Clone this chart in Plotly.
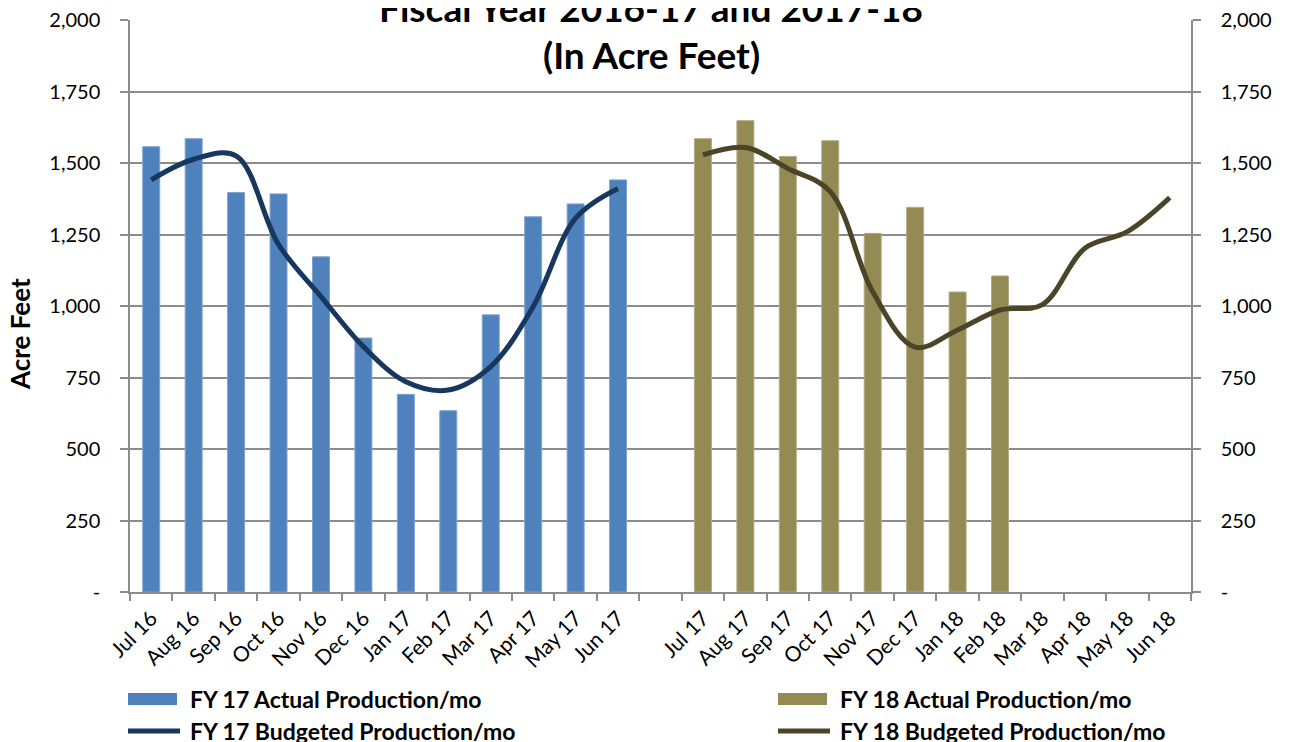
import plotly.graph_objects as go

FONT = "Lato, Carlito, Calibri, sans-serif"

fy17_months = ["Jul 16", "Aug 16", "Sep 16", "Oct 16", "Nov 16", "Dec 16",
               "Jan 17", "Feb 17", "Mar 17", "Apr 17", "May 17", "Jun 17"]
fy18_months = ["Jul 17", "Aug 17", "Sep 17", "Oct 17", "Nov 17", "Dec 17",
               "Jan 18", "Feb 18", "Mar 18", "Apr 18", "May 18", "Jun 18"]
categories = fy17_months + [" "] + fy18_months

fy17_actual = [1557, 1585, 1397, 1392, 1172, 888, 691, 634, 969, 1312, 1357, 1441]
fy17_budget = [1441, 1513, 1525, 1215, 1033, 858, 735, 706, 788, 998, 1307, 1411]

fy18_actual_months = fy18_months[:8]
fy18_actual = [1585, 1648, 1523, 1578, 1254, 1345, 1049, 1105]
fy18_budget = [1528, 1554, 1481, 1400, 1050, 856, 916, 986, 1005, 1202, 1260, 1379]

y_ticks = [0, 250, 500, 750, 1000, 1250, 1500, 1750, 2000]
y_ticktext = ["-" if v == 0 else f"{v:,}" for v in y_ticks]

BLUE = "#4F81BD"
NAVY = "#17375E"
OLIVE = "#948A54"
DARK_OLIVE = "#4A4428"
GRID = "#8C8C8C"

fig = go.Figure()
fig.add_trace(go.Bar(x=fy17_months, y=fy17_actual, name="FY 17 Actual Production/mo",
                     marker=dict(color=BLUE, line=dict(color="#7FA3D1", width=1)),
                     width=0.4, showlegend=False))
fig.add_trace(go.Scatter(x=fy17_months, y=fy17_budget, name="FY 17 Budgeted Production/mo",
                         mode="lines", line=dict(color=NAVY, width=5, shape="spline", smoothing=1),
                         showlegend=False))
fig.add_trace(go.Bar(x=fy18_actual_months, y=fy18_actual, name="FY 18 Actual Production/mo",
                     marker=dict(color=OLIVE, line=dict(color="#B3AB82", width=1)),
                     width=0.4, showlegend=False, yaxis="y2"))
fig.add_trace(go.Scatter(x=fy18_months, y=fy18_budget, name="FY 18 Budgeted Production/mo",
                         mode="lines", line=dict(color=DARK_OLIVE, width=5, shape="spline", smoothing=1),
                         showlegend=False, yaxis="y2"))

# page has an 8px body margin, so the figure is drawn 8px in from the corner
OFF = 8
W, H = 1292 - OFF, 742 - OFF
L, R, T, B = 130 - OFF, 101, 20 - OFF, 150
pw, ph = W - L - R, H - T - B


def px(x):
    # page x -> paper
    return (x - OFF - L) / pw


def py(y):
    # page y -> paper
    return (H - B - (y - OFF)) / ph


yaxis_common = dict(range=[0, 2000.01], tickvals=y_ticks, ticktext=y_ticktext,
                    ticks="outside", ticklen=8, tickcolor=GRID, tickwidth=1.5,
                    showline=True, linecolor=GRID, linewidth=1.5, zeroline=False,
                    tickfont=dict(size=20), ticklabeloverflow="allow",
                    ticklabelstandoff=16)

fig.update_layout(
    width=W, height=H,
    margin=dict(l=L, r=R, t=T, b=B, autoexpand=False),
    plot_bgcolor="white", paper_bgcolor="white",
    font=dict(family=FONT, size=20, color="#000000"),
    barmode="overlay",
    showlegend=False,
    xaxis=dict(type="category", categoryorder="array", categoryarray=categories,
               range=[-0.5, len(categories) - 0.5], tickson="boundaries",
               ticks="outside", ticklen=7, tickcolor=GRID, tickwidth=1.5,
               showline=True, linecolor=GRID, linewidth=1.5, showgrid=False,
               tickangle=-45, tickfont=dict(size=21), ticklabelstandoff=4,
               fixedrange=True),
    yaxis=dict(showgrid=True, gridcolor=GRID, gridwidth=1.5, **yaxis_common),
    yaxis2=dict(overlaying="y", side="right", anchor="x", showgrid=False, **yaxis_common),
)

# titles (the first line runs off the top edge, as in the source chart)
fig.add_annotation(text="<b>Fiscal Year 2016-17 and 2017-18</b>", xref="paper", yref="paper",
                   x=px(651), y=py(7), xanchor="center", yanchor="middle",
                   showarrow=False, font=dict(size=37))
fig.add_annotation(text="<b>(In Acre Feet)</b>", xref="paper", yref="paper",
                   x=px(651), y=py(55), xanchor="center", yanchor="middle",
                   showarrow=False, font=dict(size=37))
fig.add_annotation(text="<b>Acre Feet</b>", xref="paper", yref="paper",
                   x=px(20), y=py(334), xanchor="center", yanchor="middle",
                   showarrow=False, textangle=-90, font=dict(size=26))

# legend drawn Excel-style in two columns below the axis
legend_items = [
    ("FY 17 Actual Production/mo", BLUE, "bar", 128, 699),
    ("FY 17 Budgeted Production/mo", NAVY, "line", 128, 731),
    ("FY 18 Actual Production/mo", OLIVE, "bar", 778, 699),
    ("FY 18 Budgeted Production/mo", DARK_OLIVE, "line", 778, 731),
]
for label, color, kind, x0, yc in legend_items:
    if kind == "bar":
        fig.add_shape(type="rect", xref="paper", yref="paper",
                      x0=px(x0), x1=px(x0 + 49), y0=py(yc - 6), y1=py(yc + 6),
                      fillcolor=color, line=dict(width=0))
    else:
        fig.add_shape(type="line", xref="paper", yref="paper",
                      x0=px(x0), x1=px(x0 + 52), y0=py(yc), y1=py(yc),
                      line=dict(color=color, width=5))
    fig.add_annotation(text=f"<b>{label}</b>", xref="paper", yref="paper",
                       x=px(x0 + 60), y=py(yc), xanchor="left", yanchor="middle",
                       showarrow=False, font=dict(size=23))

fig.write_html("out.html")
